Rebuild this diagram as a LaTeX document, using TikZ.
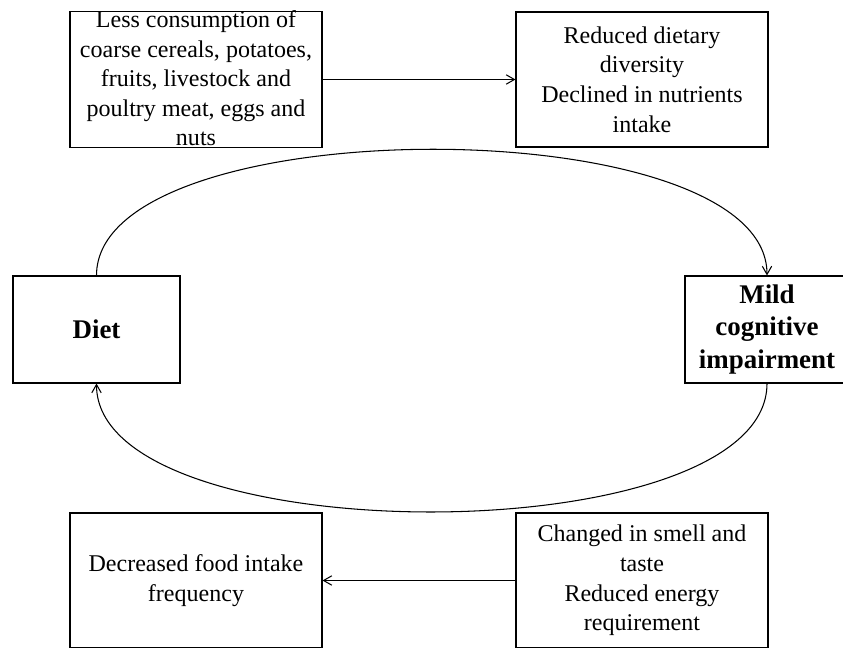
\documentclass[tikz,border=0pt]{standalone}
\usepackage{fontspec}
\setmainfont{Liberation Serif}
\usetikzlibrary{arrows.meta, positioning}

\tikzset{
  box/.style={draw, line width=0.9pt, align=center, inner sep=2pt,
    minimum width=7.56cm, minimum height=4.05cm,
    font=\fontsize{20.5}{25.2}\selectfont},
  keybox/.style={draw, line width=0.9pt, align=center, inner sep=2pt,
    minimum height=3.21cm, font=\fontsize{23}{27.7}\selectfont\bfseries},
  link/.style={line width=0.9pt, -{Straight Barb[length=7pt,width=8pt]}}
}

\begin{document}
\begin{tikzpicture}[x=0.03cm, y=-0.03cm]
  \useasboundingbox (0,0) rectangle (843,648);

  % --- Top row: diet changes ---
  \node[box, inner ysep=0pt, text height=114.4pt, text depth=0.9pt] (less) at (196,79.5)
    {Less consumption of\\coarse cereals, potatoes,\\fruits, livestock and\\poultry meat, eggs and\\nuts};
  \node[box] (diversity) at (642,79.5)
    {Reduced dietary\\diversity\\Declined in nutrients\\intake};
  \draw[link] (less) -- (diversity);

  % --- Middle: the loop ---
  \node[keybox, minimum width=5.01cm] (diet) at (96.5,329.5) {Diet};
  \node[keybox, minimum width=4.92cm] (mci) at (767,329.5) {Mild\\cognitive\\impairment};
  \draw[link] (diet.north) .. controls +(0,-168) and +(0,-168) .. (mci.north);
  \draw[link] (mci.south) .. controls +(0,171) and +(0,171) .. (diet.south);

  % --- Bottom row: MCI changes ---
  \node[box] (frequency) at (196,580.5) {Decreased food intake\\frequency};
  \node[box] (smell) at (642,580.5)
    {Changed in smell and\\taste\\Reduced energy\\requirement};
  \draw[link] (smell) -- (frequency);
\end{tikzpicture}
\end{document}
